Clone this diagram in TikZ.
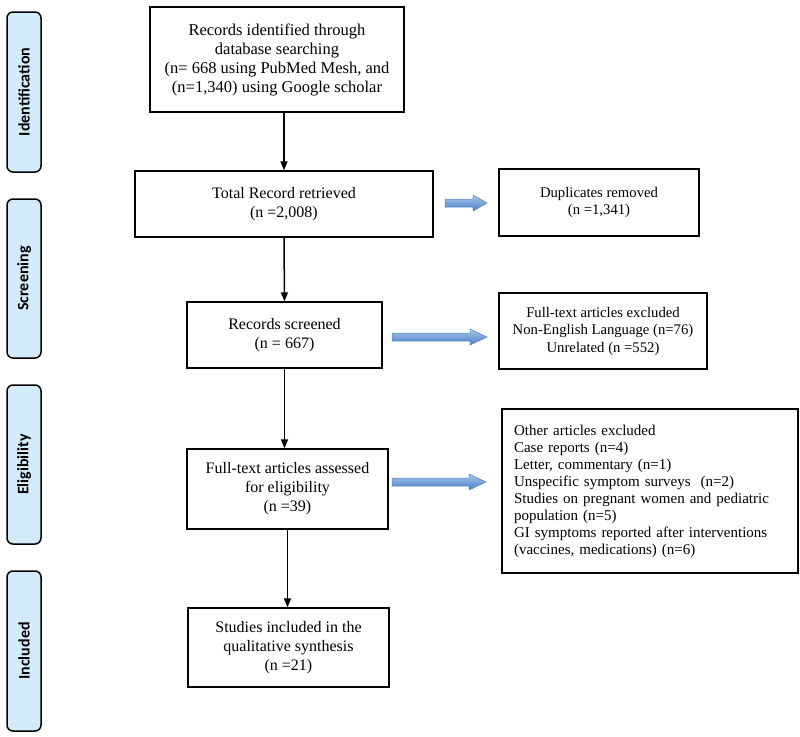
\documentclass[tikz,border=0pt]{standalone}
\usepackage{fontspec}
\setmainfont{Liberation Serif}
\newfontfamily\labfont{Carlito}
\usetikzlibrary{arrows.meta}
\definecolor{labfill}{HTML}{D4EBFA}
\definecolor{arrtop}{HTML}{A9C8EE}
\definecolor{arrmid}{HTML}{6A9BDC}
\definecolor{arrbot}{HTML}{4A7CC2}
\definecolor{arredge}{HTML}{4F81BD}
\newcommand\blarrow[4]{%
  \path[draw=arredge, line width=0.5pt, top color=arrtop, middle color=arrmid, bottom color=arrbot]
    ({#1},{#3-4}) -- ({#2-#4},{#3-4}) -- ({#2-#4},{#3-8}) -- ({#2},{#3}) --
    ({#2-#4},{#3+8}) -- ({#2-#4},{#3+4}) -- ({#1},{#3+4}) -- cycle;}
\begin{document}
\begin{tikzpicture}[x=1pt,y=-1pt,
  box/.style={draw, line width=1.4pt, inner sep=0pt, align=center, font=\fontsize{16}{19}\selectfont},
  sidebox/.style={draw, line width=1.4pt, inner sep=0pt, align=center, font=\fontsize{14.7}{17.5}\selectfont},
  phase/.style={draw, line width=1.5pt, fill=labfill, rounded corners=6pt, minimum height=34pt, inner sep=0pt, font=\labfont\bfseries\fontsize{16}{19}\selectfont, rotate=90},
  flow/.style={-{Triangle[length=9pt,width=7pt]}, line width=1.5pt}]
\useasboundingbox (0,0) rectangle (800,736);
\fill[white] (0,0) rectangle (800,736);

% phase labels
\node[phase, minimum width=160pt] (pid) at (24,92) {Identification};
\node[phase, minimum width=159pt] (psc) at (24,278.5) {Screening};
\node[phase, minimum width=159pt] (pel) at (24,464.5) {Eligibility};
\node[phase, minimum width=160pt] (pin) at (24,651) {Included};

% main column
\node[box, minimum width=254pt, minimum height=105pt, font=\fontsize{16.5}{19}\selectfont] (b1) at (277,59.5)
  {Records identified through\\database searching\\(n= 668 using PubMed Mesh, and\\(n=1,340) using Google scholar};
\node[box, minimum width=298pt, minimum height=66pt] (b2) at (284,204)
  {Total Record retrieved\\(n =2,008)};
\node[box, minimum width=195pt, minimum height=66pt] (b3) at (284.5,335)
  {Records screened\\(n = 667)};
\node[box, minimum width=201pt, minimum height=80pt] (b4) at (287.5,489)
  {Full-text articles assessed\\for eligibility\\(n =39)};
\node[box, minimum width=201pt, minimum height=79pt] (b5) at (288.5,647.5)
  {Studies included in the\\qualitative synthesis\\(n =21)};

% side boxes
\node[sidebox, minimum width=200pt, minimum height=67pt] (s1) at (599,202.5)
  {Duplicates removed\\(n =1,341)};
\node[sidebox, minimum width=208pt, minimum height=76pt] (s2) at (603,331)
  {Full-text articles excluded\\Non-English Language (n=76)\\Unrelated (n =552)};
\node[draw, line width=1.4pt, inner xsep=12pt, inner ysep=0pt, align=left, text width=272pt,
  minimum width=296pt, minimum height=164pt, font=\fontsize{15}{17}\selectfont] (s3) at (650,491)
  {Other articles excluded\\
   Case reports (n=4)\\
   Letter, commentary (n=1)\\
   Unspecific symptom surveys~ (n=2)\\
   Studies on pregnant women and pediatric\\
   population (n=5)\\
   GI symptoms reported after interventions\\
   (vaccines, medications) (n=6)};

% flow arrows
\draw[flow] (b1.south -| b2.north) -- (b2.north);
\draw[flow] (b2.south) -- (b3.north);
\draw[flow] (b3.south) -- (b3.south |- b4.north);
\draw[flow] (b4.south) -- (b4.south |- b5.north);

% blue block arrows
\blarrow{445}{487}{203}{14}
\blarrow{392}{487}{337}{17}
\blarrow{392}{486}{482}{17}
\end{tikzpicture}
\end{document}
